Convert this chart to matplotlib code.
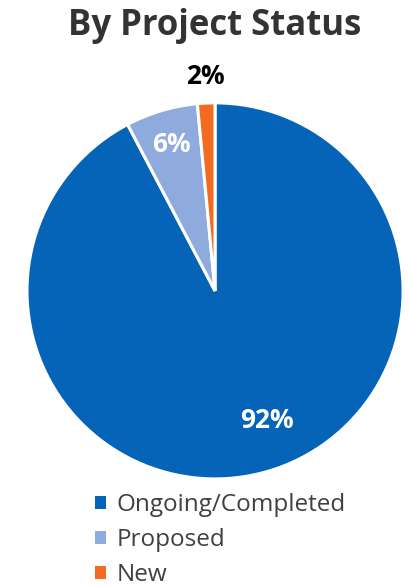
import numpy as np
import matplotlib
matplotlib.use("Agg")
import matplotlib.pyplot as plt
from matplotlib.patches import Patch

# Project status split (percent)
statuses = ["Ongoing/Completed", "Proposed", "New"]
shares = [92.3, 6.2, 1.5]
colors = ["#0563B8", "#8FAADC", "#F26B21"]

plt.rcParams['font.family'] = ['Open Sans', 'DejaVu Sans']

fig = plt.figure(figsize=(4.11, 5.86), dpi=100)
ax = fig.add_axes([0.0657, 0.1826, 0.915, 0.642])

wedges, texts, autotexts = ax.pie(
    shares, colors=colors, startangle=90, counterclock=False,
    autopct='%.0f%%', pctdistance=0.8,
    wedgeprops=dict(edgecolor='white', linewidth=2.2),
    textprops=dict(fontsize=19, fontweight='bold', color='white'))
ax.set_xlim(-1, 1)
ax.set_ylim(-1, 1)
ax.set_aspect('equal')

# nudge labels where the original places them
radius = [0.74, 0.81, 1.14]
shift = [8, 0, 0]
for w, t, r, s in zip(wedges, autotexts, radius, shift):
    ang = np.deg2rad((w.theta1 + w.theta2) / 2 + s)
    t.set_position((r * np.cos(ang), r * np.sin(ang)))
autotexts[2].set_color('black')
autotexts[2].set_clip_on(False)

fig.text(0.523, 0.955, "By Project Status", ha='center', va='center',
         fontsize=25, fontweight='bold', color='#333333')

handles = [Patch(facecolor=c, edgecolor='none') for c in colors]
fig.legend(handles, statuses, loc='upper left', bbox_to_anchor=(0.19, 0.188),
           frameon=False, fontsize=17.5, handlelength=0.45, handleheight=0.45,
           handletextpad=0.45, labelspacing=0.45, labelcolor='#404040',
           borderpad=0.2)

fig.savefig("out.png", dpi=100)
